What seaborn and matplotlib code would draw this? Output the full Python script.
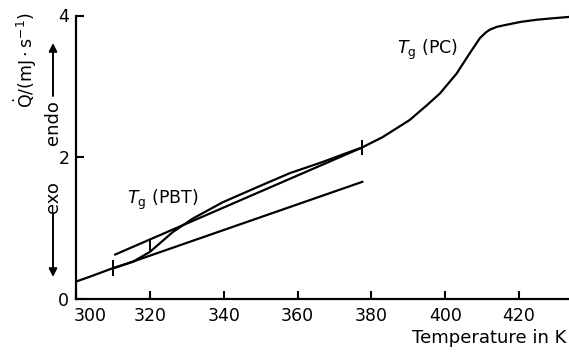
import numpy as np
import pandas as pd
import matplotlib
matplotlib.use("Agg")
import matplotlib.pyplot as plt
import matplotlib.transforms as mtransforms
import seaborn as sns

# ---- data ----
T_curve = [300.0, 303.8, 310.0, 315.4, 320.0, 326.2, 331.6, 339.7, 348.9, 357.8,
           366.8, 374.0, 377.3, 383.0, 390.3, 395.0, 398.6, 403.1, 406.7, 409.4,
           411.0, 412.1, 414.0, 416.7, 420.5, 424.8, 429.0, 433.6]
Q_curve = [0.24, 0.31, 0.43, 0.52, 0.66, 0.94, 1.13, 1.36, 1.57, 1.77,
           1.93, 2.07, 2.13, 2.28, 2.52, 2.73, 2.90, 3.18, 3.47, 3.68,
           3.76, 3.80, 3.84, 3.87, 3.91, 3.94, 3.96, 3.98]
T_base = [310.3, 377.6]
Q_base = [0.43, 1.65]
T_upper = [310.5, 377.3]
Q_upper = [0.62, 2.13]
T_marks = [310.0, 377.4]
T_mid = 320.0
x_ticks = [300, 320, 340, 360, 380, 400, 420]
y_ticks = [0, 2, 4]

sns.set_theme(style="ticks")
plt.rcParams["font.family"] = ["DejaVu Sans"]
plt.rcParams["mathtext.fontset"] = "dejavusans"
plt.rcParams["text.color"] = "black"

W, H = 569, 354
fig = plt.figure(figsize=(W / 100, H / 100), dpi=100)
x0 = 76.2
y_zero, y_four = 298.5, 15.5
ax = fig.add_axes([x0 / W, (H - y_zero) / H, 1 - x0 / W, (y_zero - y_four) / H])

lw = 1.6
df = pd.DataFrame({"T": T_curve, "Q": Q_curve})
sns.lineplot(data=df, x="T", y="Q", ax=ax, color="black", lw=lw, sort=False,
             clip_on=False)
sns.lineplot(x=T_base, y=Q_base, ax=ax, color="black", lw=lw)
sns.lineplot(x=T_upper, y=Q_upper, ax=ax, color="black", lw=lw)

# short vertical marks on the curve
for t in T_marks:
    q = np.interp(t, T_curve, Q_curve)
    ax.vlines(t, q - 0.11, q + 0.11, color="black", lw=1.4)
q_lo = np.interp(T_mid, T_curve, Q_curve)
q_hi = np.interp(T_mid, T_upper, Q_upper)
ax.vlines(T_mid, q_lo, q_hi, color="black", lw=1.4)

ax.set_xlim(300, 300 + (W - x0) / 3.69)
ax.set_ylim(0, 4)
ax.set_xticks(x_ticks)
ax.set_yticks(y_ticks)
ax.set_xticklabels([str(v) for v in x_ticks])
ax.set_yticklabels([str(v) for v in y_ticks])
ax.tick_params(direction="in", length=6, width=1.5, labelsize=12.5, pad=6,
               colors="black")
ax.tick_params(axis="y", pad=5)
# the first x label sits to the right of its tick in the reference
first = ax.get_xticklabels()[0]
first.set_transform(first.get_transform() +
                    mtransforms.ScaledTranslation(14 / 100, 0, fig.dpi_scale_trans))
for s in ["top", "right"]:
    ax.spines[s].set_visible(False)
for s in ["left", "bottom"]:
    ax.spines[s].set_linewidth(1.6)
    ax.spines[s].set_color("black")
ax.set_xlabel("")
ax.set_ylabel("")
ax.grid(False)

# annotations
ax.text(313.8, 1.39, r"$T_\mathrm{g}$ (PBT)", fontsize=12.5, va="center", ha="left")
ax.text(386.9, 3.51, r"$T_\mathrm{g}$ (PC)", fontsize=12.5, va="center", ha="left")

fig.text(566 / W, (H - 338) / H, "Temperature in K", fontsize=13, ha="right",
         va="center")

# y-axis label pieces (figure pixel coordinates)
def fx(px):
    return px / W

def fy(py):
    return (H - py) / H

fig.text(fx(53), fy(197.5), "exo", rotation=90, fontsize=13, ha="center",
         va="center")
fig.text(fx(53), fy(122.5), "endo", rotation=90, fontsize=13, ha="center",
         va="center")
fig.text(fx(25), fy(60), r"$\dot{\mathrm{Q}}/(\mathrm{mJ\cdot s^{-1}})$",
         rotation=90, fontsize=12.5, ha="center", va="center")
arrow = dict(arrowstyle="-|>", color="black", lw=1.4, mutation_scale=12,
             shrinkA=0, shrinkB=0)
ax.annotate("", xy=(fx(53), fy(277)), xytext=(fx(53), fy(214)),
            xycoords="figure fraction", textcoords="figure fraction",
            arrowprops=arrow, annotation_clip=False)
ax.annotate("", xy=(fx(53), fy(43)), xytext=(fx(53), fy(96)),
            xycoords="figure fraction", textcoords="figure fraction",
            arrowprops=arrow, annotation_clip=False)

fig.savefig("out.png", dpi=100, facecolor="white")
